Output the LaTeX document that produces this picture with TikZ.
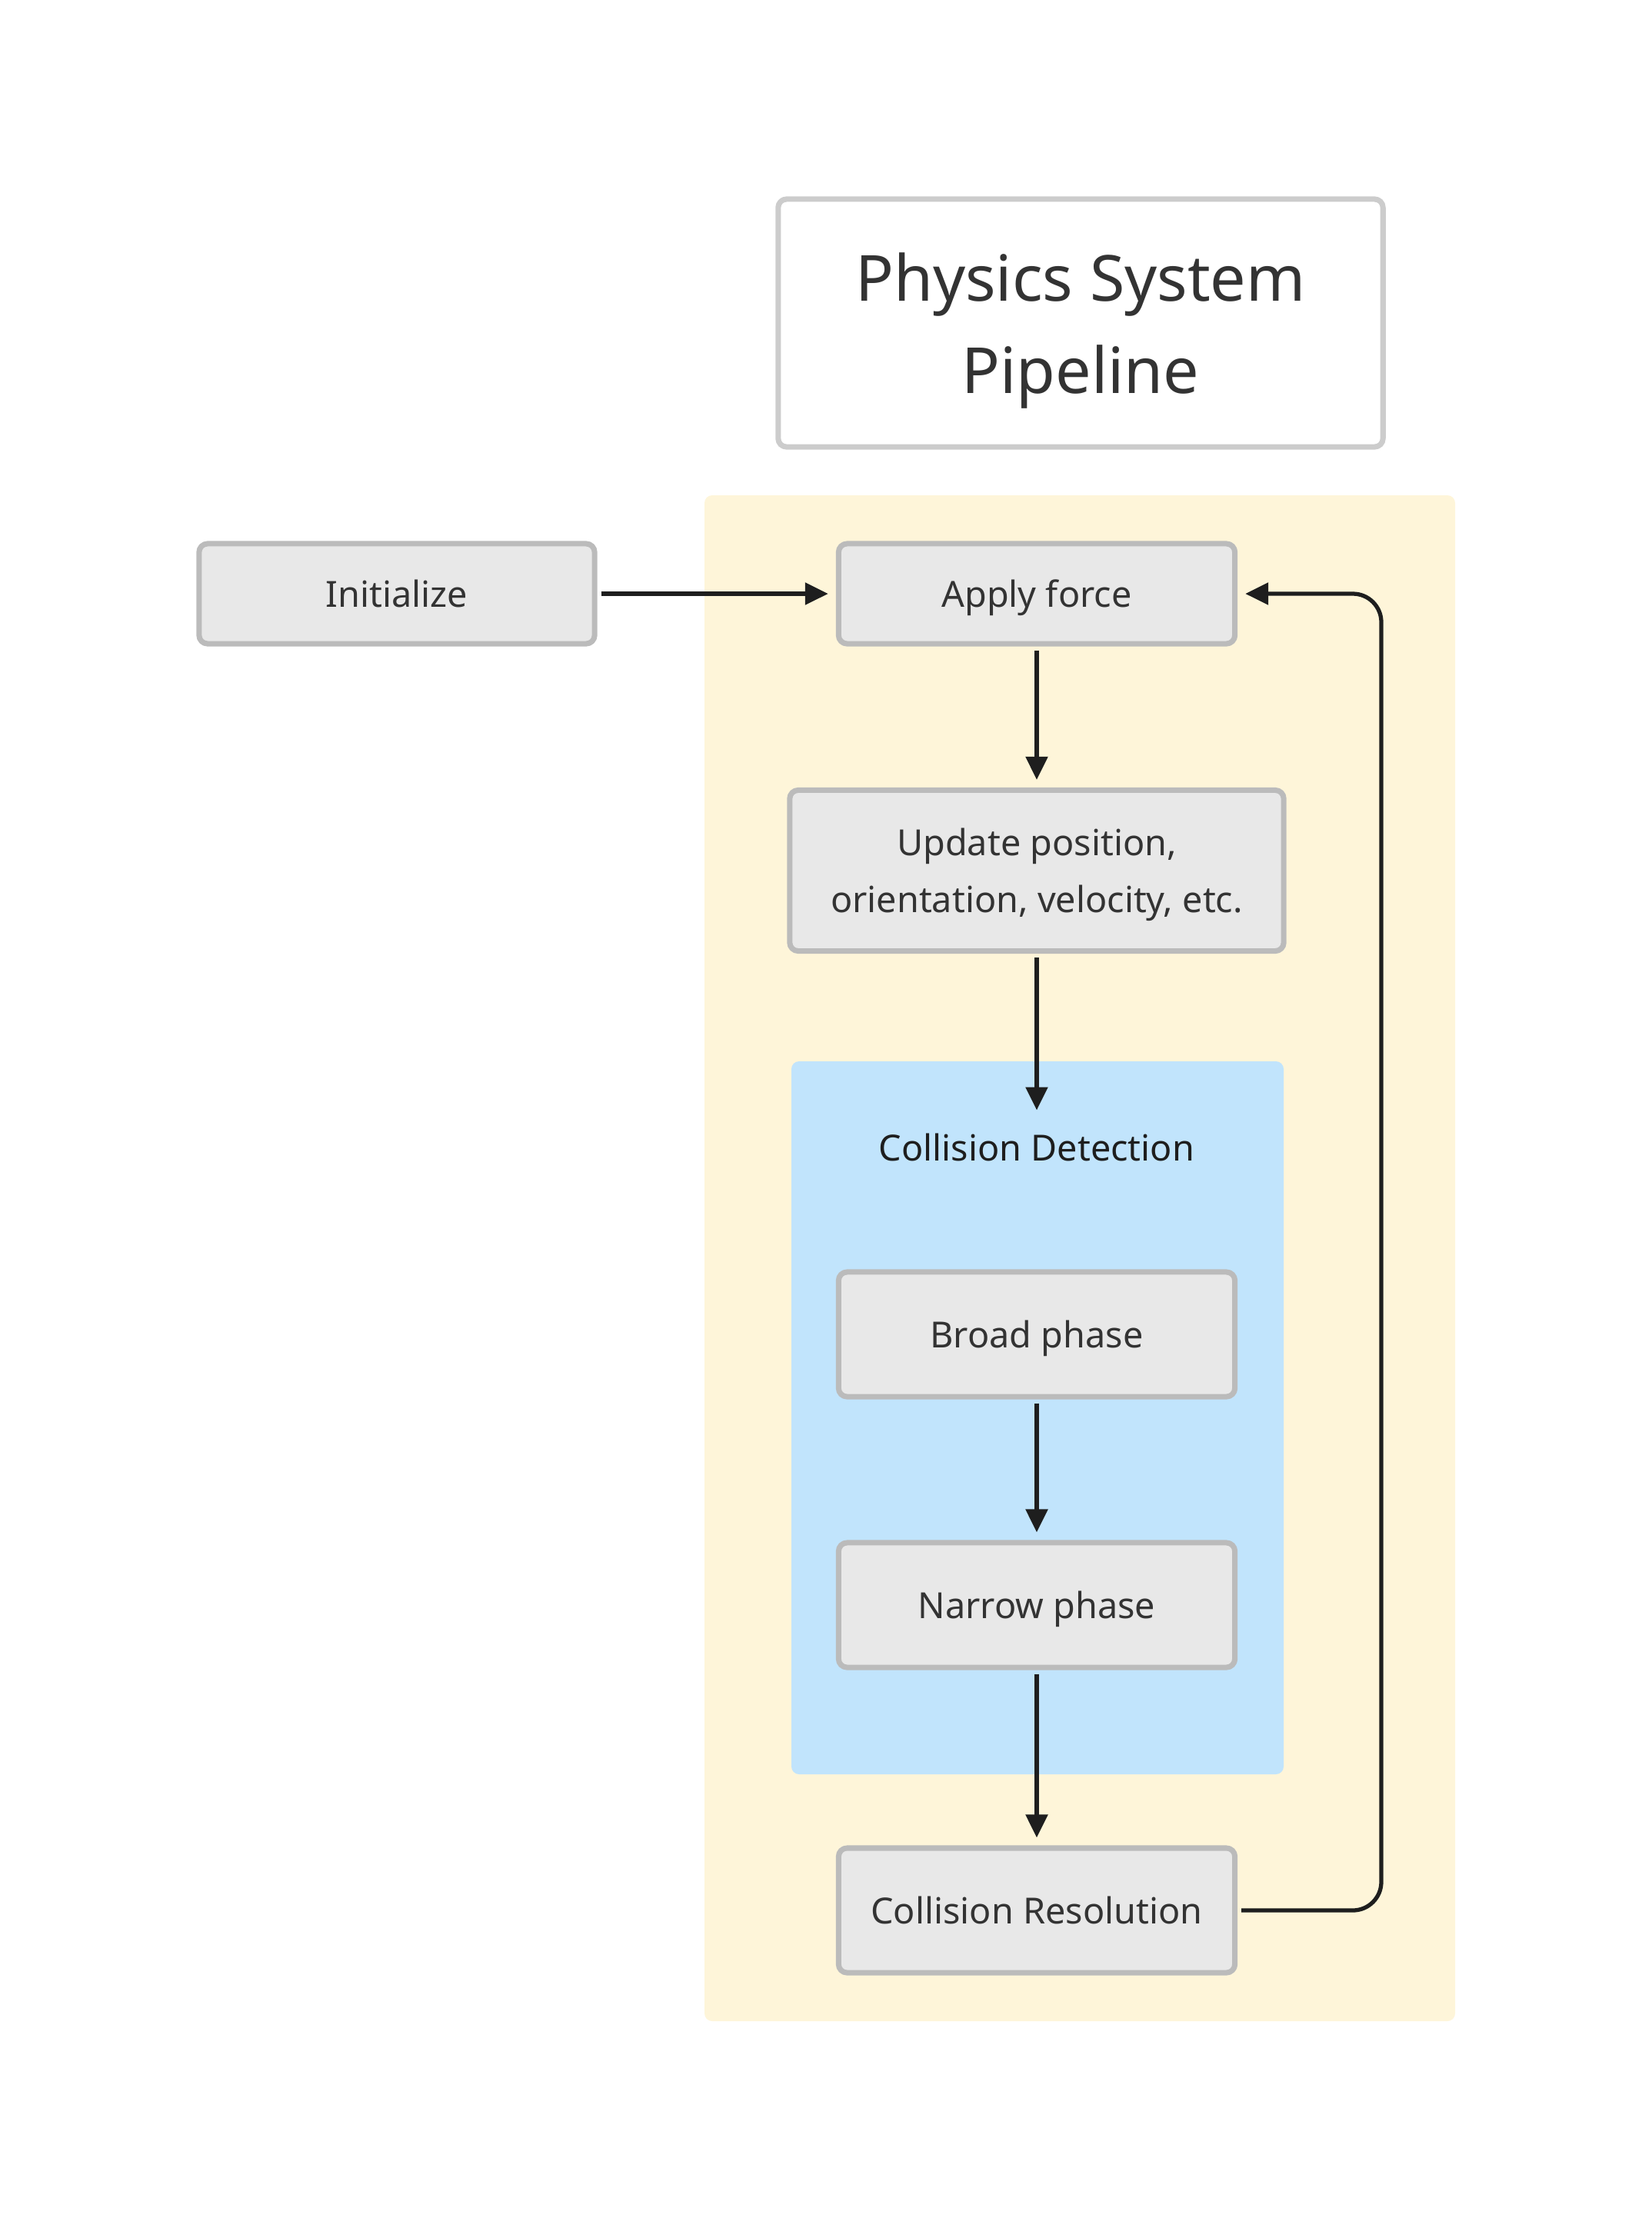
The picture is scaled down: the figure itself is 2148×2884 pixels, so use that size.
\documentclass[tikz,border=0pt]{standalone}
\usepackage{fontspec}
\setmainfont{Noto Sans}
\usetikzlibrary{arrows.meta}
\definecolor{inkc}{HTML}{1E1E1E}
\definecolor{textc}{HTML}{333333}
\definecolor{boxfill}{HTML}{E8E8E8}
\definecolor{boxline}{HTML}{BBBBBB}
\definecolor{titleline}{HTML}{CCCCCC}
\definecolor{loopfill}{HTML}{FEF5D9}
\definecolor{detectfill}{HTML}{C1E4FC}
\begin{document}
\begin{tikzpicture}[x=0.01cm,y=-0.01cm,line join=round,
  >={Triangle[length=0.3cm,width=0.28cm]},
  stage/.style={draw=boxline,fill=boxfill,line width=2pt,rounded corners=0.11cm,
    minimum width=5.15cm,minimum height=1.62cm,inner sep=0pt,align=center,
    text=textc,font=\fontsize{13.3}{21}\selectfont,text height=10.1pt,text depth=0pt},
  flow/.style={->,draw=inkc,line width=1.5pt,shorten <=0.05cm,shorten >=0.1cm}]
\useasboundingbox (0,0) rectangle (2148,2884);
% groups
\fill[loopfill,rounded corners=0.1cm] (916,644) rectangle (1892,2628);
\fill[detectfill,rounded corners=0.1cm] (1029,1380) rectangle (1669,2307);
% title
\node[draw=titleline,fill=white,line width=2pt,rounded corners=0.11cm,
  minimum width=7.86cm,minimum height=3.22cm,align=center,text=textc,
  font=\fontsize{23.5}{34}\selectfont,text depth=0pt] (title) at (1405,420) {Physics System\\Pipeline};
% stages
\node[stage,minimum width=5.14cm,minimum height=1.3cm] (init) at (516,772) {Initialize};
\node[stage,minimum height=1.3cm] (force) at (1348,772) {Apply force};
\node[stage,minimum width=6.42cm,minimum height=2.09cm,text height=] (update) at (1348,1132)
  {Update position,\\orientation, velocity, etc.};
\node[text=inkc,font=\fontsize{13.3}{16}\selectfont,inner sep=0.2cm,text height=10.1pt,text depth=0pt] (detect) at (1348,1492) {Collision Detection};
\node[stage] (broad) at (1348,1735) {Broad phase};
\node[stage] (narrow) at (1348,2087) {Narrow phase};
\node[stage] (resolve) at (1348,2484) {Collision Resolution};
% connectors
\draw[flow] (init) -- (force);
\draw[flow] (force) -- (update);
\draw[flow] (update) -- (detect);
\draw[flow] (broad) -- (narrow);
\draw[flow] (narrow) -- (resolve);
\coordinate (back) at (1796,2484);
\draw[flow,rounded corners=0.37cm] (resolve.east) -- (back) |- (force.east);
\end{tikzpicture}
\end{document}
